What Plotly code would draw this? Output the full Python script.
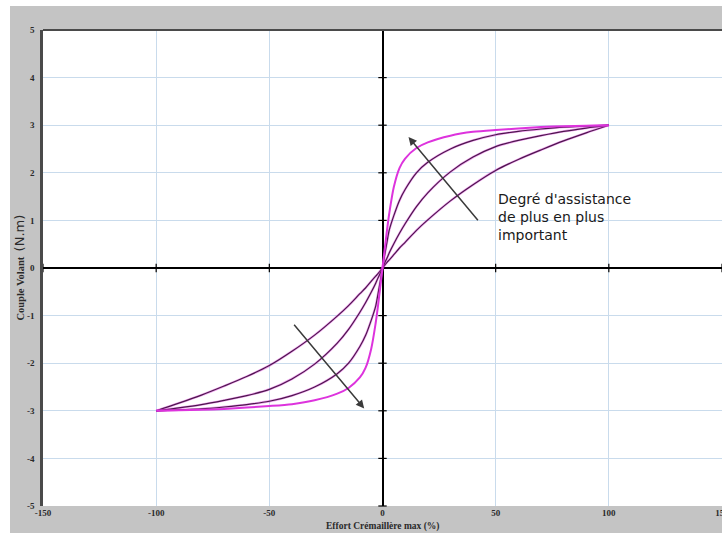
import plotly.graph_objects as go

# ---- data (positive half; curves are odd-symmetric) ----
effort_pos = [0, 1, 2, 3, 5, 7.5, 10, 15, 20, 30, 40, 50, 60, 70, 80, 90, 100]
couple_c1 = [0, 0.4, 0.8, 1.15, 1.7, 2.1, 2.3, 2.52, 2.64, 2.78, 2.86, 2.9, 2.93, 2.96, 2.98, 2.99, 3]
couple_c2 = [0, 0.28, 0.55, 0.8, 1.1, 1.42, 1.65, 2.0, 2.22, 2.5, 2.68, 2.8, 2.87, 2.92, 2.96, 2.98, 3]
couple_c3 = [0, 0.11, 0.21, 0.32, 0.51, 0.73, 0.93, 1.29, 1.58, 2.02, 2.33, 2.55, 2.68, 2.78, 2.87, 2.94, 3]
couple_c4 = [0, 0.06, 0.12, 0.17, 0.28, 0.42, 0.54, 0.79, 1.01, 1.41, 1.75, 2.05, 2.28, 2.48, 2.67, 2.84, 3]

x_ticks = [-150, -100, -50, 0, 50, 100, 150]
y_ticks = [-5, -4, -3, -2, -1, 0, 1, 2, 3, 4, 5]

label_text = "Degré d'assistance<br>de plus en plus<br>important"
label_pos = (50, 1.07)
arrow_up = {"tail": (42.7, 0.97), "head": (11.5, 2.75)}
arrow_down = {"tail": (-39.6, -1.16), "head": (-8.1, -2.95)}


def full(xs, ys):
    fx = [-v for v in reversed(xs[1:])] + xs
    fy = [-v for v in reversed(ys[1:])] + ys
    return fx, fy


MAGENTA = "#dd33dd"
PURPLE = "#4d174d"
fig = go.Figure()

for ys in [couple_c4, couple_c3, couple_c2]:
    fx, fy = full(effort_pos, ys)
    fig.add_trace(go.Scatter(x=fx, y=fy, mode="lines",
                             line=dict(color=MAGENTA, width=2.4, shape="spline", smoothing=0.8),
                             opacity=0.45, hoverinfo="skip", showlegend=False))
    fig.add_trace(go.Scatter(x=fx, y=fy, mode="lines",
                             line=dict(color=PURPLE, width=1.2, shape="spline", smoothing=0.8),
                             hoverinfo="skip", showlegend=False))

fx, fy = full(effort_pos, couple_c1)
fig.add_trace(go.Scatter(x=fx, y=fy, mode="lines",
                         line=dict(color=MAGENTA, width=2, shape="spline", smoothing=0.8),
                         hoverinfo="skip", showlegend=False))

# tick marks on the zero axes
fig.add_trace(go.Scatter(x=[v for v in x_ticks if v != 0], y=[0] * (len(x_ticks) - 1), mode="markers",
                         marker=dict(symbol="line-ns", size=6, line=dict(color="black", width=1.2)),
                         hoverinfo="skip", showlegend=False, cliponaxis=False))
fig.add_trace(go.Scatter(x=[0] * (len(y_ticks) - 1), y=[v for v in y_ticks if v != 0], mode="markers",
                         marker=dict(symbol="line-ew", size=6, line=dict(color="black", width=1.2)),
                         hoverinfo="skip", showlegend=False, cliponaxis=False))

tickfont = dict(family="Liberation Serif, DejaVu Serif, serif", size=9, color="#2a2a2a", weight="bold")
fig.update_xaxes(range=[-150, 150], tickvals=x_ticks, ticktext=[str(v) for v in x_ticks],
                 showgrid=True, gridcolor="#c9dbec", gridwidth=1,
                 zeroline=True, zerolinecolor="black", zerolinewidth=1.5,
                 showline=False, ticks="", tickfont=tickfont, ticklabeloverflow="allow",
                 fixedrange=True)
fig.update_yaxes(range=[-5, 5], tickvals=y_ticks, ticktext=[str(v) for v in y_ticks],
                 showgrid=True, gridcolor="#c9dbec", gridwidth=1,
                 zeroline=True, zerolinecolor="black", zerolinewidth=1.5,
                 showline=True, linecolor="#4a4a4a", linewidth=2.5, ticks="", ticklabelstandoff=4,
                 tickfont=tickfont, fixedrange=True)

annotations = [
    dict(x=label_pos[0], y=label_pos[1], xref="x", yref="y", text=label_text, showarrow=False,
         xanchor="left", yanchor="middle", align="left",
         font=dict(family="DejaVu Sans, Verdana, sans-serif", size=14, color="#1a1a1a")),
]
for arr in (arrow_up, arrow_down):
    annotations.append(dict(x=arr["head"][0], y=arr["head"][1], ax=arr["tail"][0], ay=arr["tail"][1],
                            xref="x", yref="y", axref="x", ayref="y", text="", showarrow=True,
                            arrowhead=2, arrowsize=1.1, arrowwidth=1.5, arrowcolor="#3a3a3a"))
annotations.append(dict(x=0.5, y=(506 - 526) / 476, xref="paper", yref="paper", xanchor="center",
                        yanchor="middle", text="Effort Crémaillère max (%)", showarrow=False,
                        font=dict(family="Liberation Serif, DejaVu Serif, serif", size=9.5,
                                  color="#2a2a2a", weight="bold")))
annotations.append(dict(x=-0.036, y=0.5, xref="paper", yref="paper", xanchor="center", yanchor="middle",
                        textangle=-90, showarrow=False,
                        text="Couple Volant  <span style='font-family:DejaVu Sans;font-size:13px;font-weight:normal'>(N.m)</span>",
                        font=dict(family="Liberation Serif, DejaVu Serif, serif", size=10.5,
                                  color="#2a2a2a", weight="bold")))

shapes = [
    # white strips at top and left of the page
    dict(type="rect", xref="paper", yref="paper", x0=-0.1, x1=1.1, y0=(506 - 6) / 476, y1=1.2,
         fillcolor="white", line=dict(width=0), layer="above"),
    dict(type="rect", xref="paper", yref="paper", x0=-0.1, x1=(10 - 43) / 679, y0=-0.2, y1=1.2,
         fillcolor="white", line=dict(width=0), layer="above"),
    # dark top border of the plot area
    dict(type="line", xref="paper", yref="paper", x0=0, x1=1, y0=1, y1=1,
         line=dict(color="#4a4a4a", width=2), layer="above"),
]

fig.update_layout(
    width=722, height=533,
    margin=dict(l=43, r=0, t=30, b=27, autoexpand=False),
    paper_bgcolor="#c4c4c4", plot_bgcolor="white",
    annotations=annotations, shapes=shapes, showlegend=False,
)

fig.write_html("out.html", config={"displayModeBar": False},
               post_script="document.body.style.margin='0px';document.body.style.overflow='hidden';")
